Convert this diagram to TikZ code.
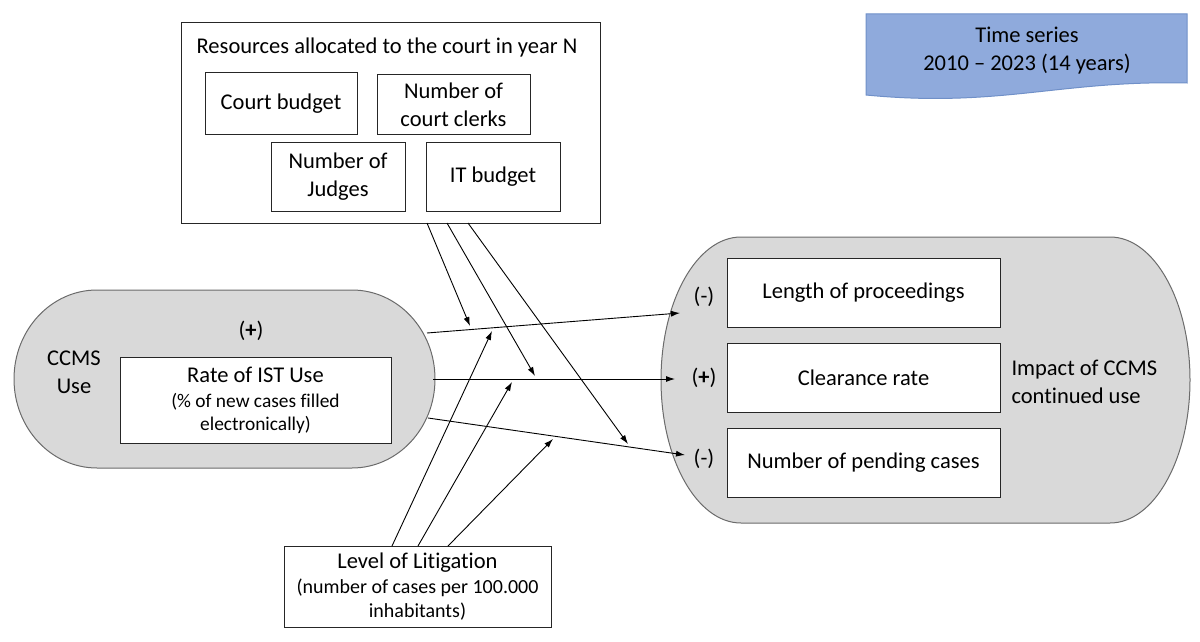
\documentclass[tikz,border=0pt]{standalone}
\usepackage{fontspec}
\setmainfont{Carlito}[Ligatures={TeX,NoCommon}]
\usepackage{tikz}
\usetikzlibrary{arrows.meta, positioning}
\definecolor{ovalgray}{HTML}{D9D9D9}
\definecolor{ovalline}{HTML}{6B6B6B}
\definecolor{tsblue}{HTML}{8FAADC}
\definecolor{tsline}{HTML}{7090C8}
\newcommand{\sm}{\fontsize{20}{24}\selectfont}
\newcommand{\smist}{\fontsize{19.4}{23}\selectfont}

\begin{document}
\begin{tikzpicture}[x=1pt, y=-1pt, line width=1pt,
        every node/.style={font=\fontsize{22.5}{28}\selectfont, inner sep=0pt},
        box/.style={draw=black!85, fill=white, align=center},
        oval/.style={draw=ovalline, fill=ovalgray},
        arr/.style={-{Latex[length=9pt, width=6pt]}, line width=0.9pt}]
            \useasboundingbox (0,0) rectangle (1200,642);

            % time series
            \draw[draw=tsline, fill=tsblue] (866,14) -- (1187,14) -- (1187,83)
                .. controls (1060,80) and (1000,108) .. (866,95) -- cycle;
            \node[align=center] at (1027,51) (ts) {Time series\\2010 -- 2023 (14 years)};

            % resources
            \node[box, minimum width=419pt, minimum height=200pt] at (390.5,123) (res) {};
            \node at (387,48) (restitle) {Resources allocated to the court in year N};
            \node[box, minimum width=152pt, minimum height=61pt] at (281,103.5) (budget) {Court budget};
            \node[box, minimum width=153pt, minimum height=59pt] at (453.5,104.5) (clerks) {Number of\\court clerks};
            \node[box, minimum width=134pt, minimum height=69pt] at (338,176.5) (judges) {Number of\\Judges};
            \node[box, minimum width=134pt, minimum height=69pt] at (493,176.5) (itbudget) {IT budget};

            % CCMS use
            \draw[oval] (97,290) -- (352,290)
                arc[start angle=-90, end angle=90, x radius=83, y radius=89] -- (97,468)
                arc[start angle=90, end angle=270, x radius=83, y radius=89] -- cycle;
            \node[align=center] at (74,372) (ccms) {CCMS\\Use};
            \node at (251,331) (plus) {(\textbf{+})};
            \node[box, minimum width=271pt, minimum height=86pt] at (255.5,400) (ist)
                {Rate of IST Use\\[-3pt]\smist(\% of new cases filled\\[-5pt]\smist electronically)};

            % impact
            \draw[oval] (741,237) -- (1110,237)
                arc[start angle=-90, end angle=90, x radius=80, y radius=143] -- (741,523)
                arc[start angle=90, end angle=270, x radius=80, y radius=143] -- cycle;
            \node[box, minimum width=273pt, minimum height=69pt] at (863.5,292.5) (length) {Length of proceedings};
            \node[box, minimum width=273pt, minimum height=69pt] at (863.5,377.5) (clearance) {Clearance rate};
            \node[box, minimum width=273pt, minimum height=69pt] at (863.5,462.5) (pending) {Number of pending cases};
            \node at (704,297) (s1) {(-)};
            \node at (704,378) (s2) {(\textbf{+})};
            \node at (704,459) (s3) {(-)};
            \node[align=left, anchor=west] at (1011,382) (impact) {Impact of CCMS\\continued use};

            % litigation
            \node[box, minimum width=267pt, minimum height=81pt] at (417.5,586.5) (lit)
                {Level of Litigation\\[-3pt]\sm(number of cases per 100.000\\[-4pt]\sm inhabitants)};

            % connector ends
            \coordinate (c1) at (427,333);
            \coordinate (c2) at (433,379);
            \coordinate (c3) at (428,418);
            \coordinate (i1) at (680,313);
            \coordinate (i2) at (675,379);
            \coordinate (i3) at (685,455);
            \coordinate (r1) at (427,223);
            \coordinate (r2) at (447,223);
            \coordinate (r3) at (468,223);
            \coordinate (m1) at (470,326);
            \coordinate (m2) at (535,376);
            \coordinate (m3) at (628,444);
            \coordinate (l1) at (392,546);
            \coordinate (l2) at (418,546);
            \coordinate (l3) at (448,546);
            \coordinate (n1) at (492,331);
            \coordinate (n2) at (512,382);
            \coordinate (n3) at (553,439);

            \draw[arr] (c1) -- (i1);
            \draw[arr] (c2) -- (i2);
            \draw[arr] (c3) -- (i3);
            \draw[arr] (r1) -- (m1);
            \draw[arr] (r2) -- (m2);
            \draw[arr] (r3) -- (m3);
            \draw[arr] (l1) -- (n1);
            \draw[arr] (l2) -- (n2);
            \draw[arr] (l3) -- (n3);
        \end{tikzpicture}
\end{document}
